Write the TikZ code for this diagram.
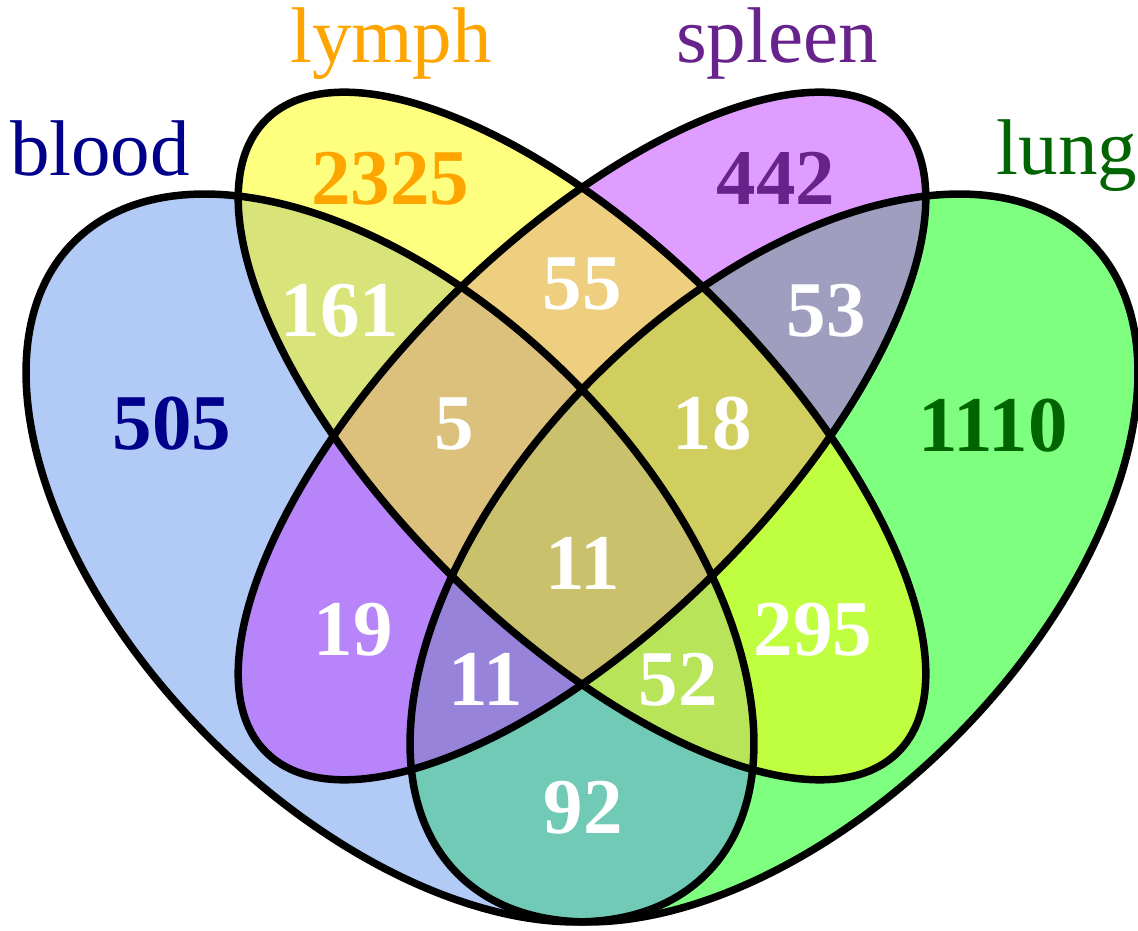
\documentclass[tikz,border=0pt]{standalone}
\usepackage{fontspec}
\setmainfont{Liberation Serif}
\definecolor{cBlood}{RGB}{100,149,237}
\definecolor{cLymph}{RGB}{255,255,0}
\definecolor{cSpleen}{RGB}{191,62,255}
\definecolor{cLung}{RGB}{0,255,0}
\definecolor{tBlood}{RGB}{0,0,139}
\definecolor{tLymph}{RGB}{255,165,0}
\definecolor{tSpleen}{RGB}{104,34,139}
\definecolor{tLung}{RGB}{0,100,0}
\begin{document}
\begin{tikzpicture}[x=1pt,y=1pt,
  setfill/.style={fill=#1, fill opacity=0.5},
  outline/.style={draw=black, line width=7.5pt},
  catlabel/.style={anchor=base, inner sep=0pt, font=\fontsize{79}{80}\selectfont, text=#1},
  count/.style={anchor=base, inner sep=0pt, font=\fontsize{79}{80}\selectfont\bfseries, text=#1},
  count/.default=white]
\useasboundingbox (0,0) rectangle (1138,930);
% fills (order: lung, blood, spleen, lymph)
\path[setfill=cLung, rotate around={45:(774,372)}] (774,372) ellipse [x radius=447pt, y radius=255pt];
\path[setfill=cBlood, rotate around={-45:(390,372)}] (390,372) ellipse [x radius=447pt, y radius=255pt];
\path[setfill=cSpleen, rotate around={45:(582,494)}] (582,494) ellipse [x radius=447pt, y radius=191pt];
\path[setfill=cLymph, rotate around={-45:(582,494)}] (582,494) ellipse [x radius=447pt, y radius=191pt];
% outlines
\draw[outline, rotate around={45:(774,372)}] (774,372) ellipse [x radius=447pt, y radius=255pt];
\draw[outline, rotate around={-45:(390,372)}] (390,372) ellipse [x radius=447pt, y radius=255pt];
\draw[outline, rotate around={45:(582,494)}] (582,494) ellipse [x radius=447pt, y radius=191pt];
\draw[outline, rotate around={-45:(582,494)}] (582,494) ellipse [x radius=447pt, y radius=191pt];
% category labels
\node[catlabel=tBlood] (lblood) at (100,754) {blood};
\node[catlabel=tLymph] (llymph) at (391,867) {lymph};
\node[catlabel=tSpleen] (lspleen) at (777,867) {spleen};
\node[catlabel=tLung] (llung) at (1067,755) {lung};
% counts
\node[count=tLymph] (n2325) at (390,725) {2325};
\node[count=tSpleen] (n442) at (776,725) {442};
\node[count=tBlood] (n505) at (172,480) {505};
\node[count=tLung] (n1110) at (993,478) {1110};
\node[count] (n161) at (340,593) {161};
\node[count] (n55) at (582,620) {55};
\node[count] (n53) at (826,593) {53};
\node[count] (n5) at (454,480) {5};
\node[count] (n18) at (712,480) {18};
\node[count] (n11c) at (583,340) {11};
\node[count] (n19) at (353,275) {19};
\node[count] (n295) at (813,275) {295};
\node[count] (n11l) at (486,225) {11};
\node[count] (n52) at (678,225) {52};
\node[count] (n92) at (583,97) {92};
\end{tikzpicture}
\end{document}
